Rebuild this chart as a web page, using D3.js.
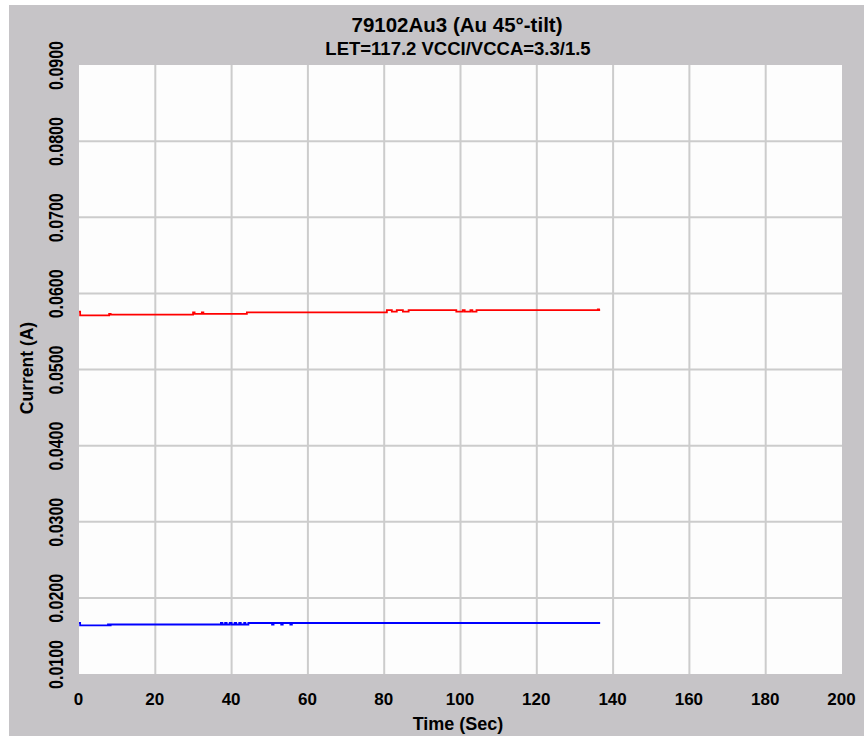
<!DOCTYPE html>
<html>
<head>
<meta charset="utf-8">
<script src="https://cdn.jsdelivr.net/npm/d3@7"></script>
<style>
  html, body { margin: 0; padding: 0; background: #ffffff; }
  svg { display: block; }
  text { font-family: "Liberation Sans", Arial, sans-serif; font-weight: bold; fill: #000; }
</style>
</head>
<body>
<svg id="chart" width="864" height="736"></svg>
<script>
// ---- Data ----
const titleLines = ["79102Au3 (Au 45°-tilt)", "LET=117.2 VCCI/VCCA=3.3/1.5"];
const xLabel = "Time (Sec)";
const yLabel = "Current (A)";
const xTicks = [0, 20, 40, 60, 80, 100, 120, 140, 160, 180, 200];
const yTicks = [0.01, 0.02, 0.03, 0.04, 0.05, 0.06, 0.07, 0.08, 0.09];

// Red series (step data): time in sec, current in A
const redTime  = [0, 0.3, 7.9, 8.3, 29.9, 30.3, 32.2, 32.6, 44.0, 80.7, 82.0, 83.3, 84.9, 86.4, 98.9, 100.6, 101.1, 102.6, 103.1, 104.2, 136.0, 136.3, 136.6];
const redValue = [0.0576, 0.0571, 0.0573, 0.0572, 0.0575, 0.0573, 0.0575, 0.0573, 0.0575, 0.0578, 0.0576, 0.0578, 0.0576, 0.0578, 0.0576, 0.0578, 0.0576, 0.0578, 0.0576, 0.0578, 0.0579, 0.0578, 0.0578];

// Blue series
const blueTime  = [0, 0.3, 7.6, 7.9, 8.3, 37.2, 37.6, 38.3, 38.7, 39.5, 40.0, 40.8, 41.2, 42.0, 42.4, 43.3, 43.6, 44.4, 50.6, 51.0, 53.0, 53.4, 55.4, 55.8, 136.6];
const blueValue = [0.0167, 0.0164, 0.0165, 0.0164, 0.0165, 0.0167, 0.0165, 0.0167, 0.0165, 0.0167, 0.0165, 0.0167, 0.0165, 0.0167, 0.0165, 0.0167, 0.0165, 0.0167, 0.0165, 0.0167, 0.0165, 0.0167, 0.0165, 0.0167, 0.0167];

const series = [
  { name: "red",  color: "#ff0000", t: redTime,  v: redValue },
  { name: "blue", color: "#0000ff", t: blueTime, v: blueValue }
];

// ---- Layout ----
const W = 864, H = 736;
const plot = { left: 79, right: 842, top: 65, bottom: 674 };

const svg = d3.select("#chart");

// panel background
svg.append("rect").attr("x", 9).attr("y", 5).attr("width", W - 9).attr("height", H - 5)
  .attr("fill", "#c6c4c7");

// plot area
svg.append("rect").attr("x", plot.left).attr("y", plot.top)
  .attr("width", plot.right - plot.left).attr("height", plot.bottom - plot.top)
  .attr("fill", "#fdfdfd");

const x = d3.scaleLinear().domain([0, 200]).range([plot.left, plot.right]);
const y = d3.scaleLinear().domain([0.01, 0.09]).range([plot.bottom, plot.top]);

// grid
const grid = svg.append("g").attr("stroke", "#cccccc").attr("stroke-width", 2);
grid.selectAll("line.vx").data(xTicks.filter(d => d > 0 && d < 200)).join("line")
  .attr("x1", d => x(d)).attr("x2", d => x(d))
  .attr("y1", plot.top).attr("y2", plot.bottom);
grid.selectAll("line.hy").data(yTicks.filter(d => d > 0.01 + 1e-9 && d < 0.09 - 1e-9)).join("line")
  .attr("x1", plot.left).attr("x2", plot.right)
  .attr("y1", d => y(d)).attr("y2", d => y(d));

// lines
const line = d3.line().curve(d3.curveStepAfter).x(d => x(d[0])).y(d => y(d[1]));
series.forEach(s => {
  const pts = s.t.map((t, i) => [t, s.v[i]]);
  svg.append("path").datum(pts)
    .attr("fill", "none").attr("stroke", s.color).attr("stroke-width", 1.8)
    .attr("d", line);
});

// x axis
const xAxis = svg.append("g").attr("transform", `translate(0,${plot.bottom})`)
  .call(d3.axisBottom(x).tickValues(xTicks).tickSize(0).tickFormat(d3.format("d")));
xAxis.select(".domain").remove();
xAxis.selectAll("text")
  .attr("y", 31).attr("dy", 0).attr("dx", -1)
  .style("font-size", "17px").style("font-family", "'Liberation Sans', Arial, sans-serif")
  .style("font-weight", "bold").attr("fill", "#000");

// y axis
const yAxis = svg.append("g").attr("transform", `translate(${plot.left},0)`)
  .call(d3.axisLeft(y).tickValues(yTicks).tickSize(0).tickFormat(d3.format(".4f")));
yAxis.select(".domain").remove();
yAxis.selectAll("text")
  .attr("x", 0).attr("y", 0).attr("dy", 0)
  .attr("text-anchor", "middle")
  .attr("transform", d => `translate(-16,${d === 0.01 ? -10 : 0}) rotate(-90) scale(1,1.25)`)
  .style("font-size", "16px").style("font-family", "'Liberation Sans', Arial, sans-serif")
  .style("font-weight", "bold").attr("fill", "#000");

// titles
svg.append("text").attr("x", 457).attr("y", 32).attr("text-anchor", "middle")
  .style("font-size", "20.5px").text(titleLines[0]);
svg.append("text").attr("x", 458).attr("y", 55).attr("text-anchor", "middle")
  .style("font-size", "18.5px").text(titleLines[1]);

// axis titles
svg.append("text").attr("x", 458).attr("y", 730).attr("text-anchor", "middle")
  .style("font-size", "18px").text(xLabel);
svg.append("text").attr("transform", "translate(33,368) rotate(-90)").attr("text-anchor", "middle")
  .style("font-size", "17.5px").text(yLabel);
</script>
</body>
</html>
